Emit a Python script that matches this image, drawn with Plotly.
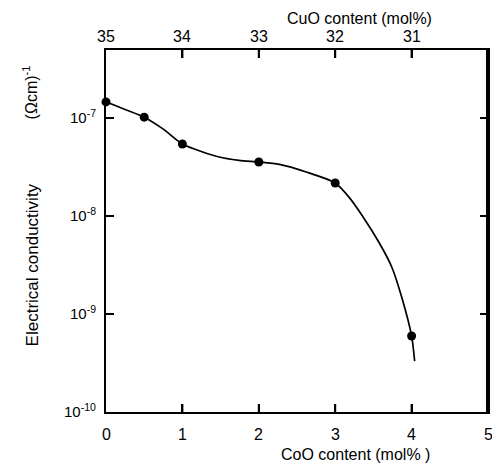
import math
import plotly.graph_objects as go

# Data
coo_content = [0.0, 0.5, 1.0, 2.0, 3.0, 4.0]
conductivity = [1.46e-7, 1.02e-7, 5.43e-8, 3.56e-8, 2.17e-8, 5.97e-10]
# guide curve
curve_x = [0.0, 0.25, 0.5, 0.75, 1.0, 1.48, 1.74, 2.0, 2.27, 2.62, 3.0, 3.18, 3.35, 3.57, 3.74, 3.87, 4.0, 4.04]
curve_y = [1.46e-7, 1.22e-7, 1.02e-7, 7.7e-8, 5.43e-8, 4.0e-8, 3.7e-8, 3.56e-8, 3.36e-8, 2.81e-8,
           2.17e-8, 1.56e-8, 1.02e-8, 5.43e-9, 3.02e-9, 1.49e-9, 5.97e-10, 3.3e-10]

x_ticks = [0, 1, 2, 3, 4, 5]
cuo_ticks = [35, 34, 33, 32, 31]          # top axis: CuO = 35 - CoO
CUO_TOTAL = 35
y_tickvals = [1e-10, 1e-9, 1e-8, 1e-7]
y_ticktext = ["10<sup>-10</sup>", "10<sup>-9</sup>", "10<sup>-8</sup>", "10<sup>-7</sup>"]

FAM = "Liberation Sans"
Y_RANGE = [-10, -6.306]
X_RANGE = [0, 5]

W, H = 492, 470
l, r, t, b = 106, 2, 50, 58
pw, ph = W - l - r, H - t - b
TICK_PX = 8
dx = TICK_PX / pw * (X_RANGE[1] - X_RANGE[0])       # tick length in x units
dlog = TICK_PX / ph * (Y_RANGE[1] - Y_RANGE[0])     # tick length in decades
y_lo, y_hi = 10 ** Y_RANGE[0], 10 ** Y_RANGE[1]

fig = go.Figure()
fig.add_trace(go.Scatter(x=curve_x, y=curve_y, mode="lines",
                         line=dict(color="black", width=1.7, shape="spline", smoothing=0.7),
                         hoverinfo="skip", showlegend=False))
fig.add_trace(go.Scatter(x=coo_content, y=conductivity, mode="markers",
                         marker=dict(color="black", size=9), showlegend=False, cliponaxis=False))

# inward tick marks on all four sides, built from the tick arrays
tx, ty = [], []
for v in x_ticks[1:-1]:
    tx += [v, v, None, v, v, None]
    ty += [y_lo, 10 ** (Y_RANGE[0] + dlog), None, y_hi, 10 ** (Y_RANGE[1] - dlog), None]
for v in y_tickvals[1:]:
    tx += [X_RANGE[0], X_RANGE[0] + dx, None, X_RANGE[1], X_RANGE[1] - dx, None]
    ty += [v, v, None, v, v, None]
fig.add_trace(go.Scatter(x=tx, y=ty, mode="lines", line=dict(color="black", width=2),
                         hoverinfo="skip", showlegend=False, connectgaps=False))
# right frame edge
fig.add_trace(go.Scatter(x=[X_RANGE[1], X_RANGE[1]], y=[y_lo, y_hi], mode="lines",
                         line=dict(color="black", width=4), hoverinfo="skip", showlegend=False))

fig.update_layout(
    width=W, height=H,
    margin=dict(l=l, r=r, t=t, b=b),
    paper_bgcolor="white", plot_bgcolor="white",
    xaxis=dict(range=X_RANGE, tickvals=x_ticks, showticklabels=False, ticks="inside",
               ticklen=8, tickwidth=2, tickcolor="black", showline=True, linewidth=2,
               linecolor="black", mirror="allticks", showgrid=False),
    yaxis=dict(type="log", range=Y_RANGE, tickvals=y_tickvals, showticklabels=False,
               ticks="inside", ticklen=8, tickwidth=2, tickcolor="black", showline=True,
               linewidth=2, linecolor="black", mirror="allticks", showgrid=False),
)

# bottom CoO tick labels
for v in x_ticks:
    fig.add_annotation(text=str(v), x=v, xref="x", y=0, yref="paper", yshift=-12,
                       xanchor="center", yanchor="top", showarrow=False,
                       font=dict(family=FAM, size=16, color="black"))
# top CuO tick labels (secondary scale)
for c in cuo_ticks:
    fig.add_annotation(text=str(c), x=CUO_TOTAL - c, xref="x", y=1, yref="paper",
                       yshift=3, xanchor="center", yanchor="bottom", showarrow=False,
                       font=dict(family=FAM, size=16, color="black"))
# left log tick labels
for v, txt in zip(y_tickvals, y_ticktext):
    frac = (math.log10(v) - Y_RANGE[0]) / (Y_RANGE[1] - Y_RANGE[0])
    fig.add_annotation(text=txt, x=0, xref="paper", y=frac, yref="paper", xshift=-8,
                       yshift=2, xanchor="right", yanchor="middle", showarrow=False,
                       font=dict(family=FAM, size=15, color="black"))


def pix_annot(text, px, py, angle=0, size=16):
    fig.add_annotation(text=text, x=(px - l) / pw, y=1 - (py - t) / ph, xref="paper",
                       yref="paper", xanchor="center", yanchor="middle", textangle=angle,
                       showarrow=False, font=dict(family=FAM, size=size, color="black"))


pix_annot("CoO content (mol% )", 357, 454, size=16)
pix_annot("CuO content (mol%)", 361, 18, size=16)
pix_annot("Electrical conductivity", 32, 265, angle=-90, size=17)
pix_annot("(\u03A9cm)<sup>-1</sup>", 30, 92, angle=-90, size=16)

fig.write_html("out.html")
